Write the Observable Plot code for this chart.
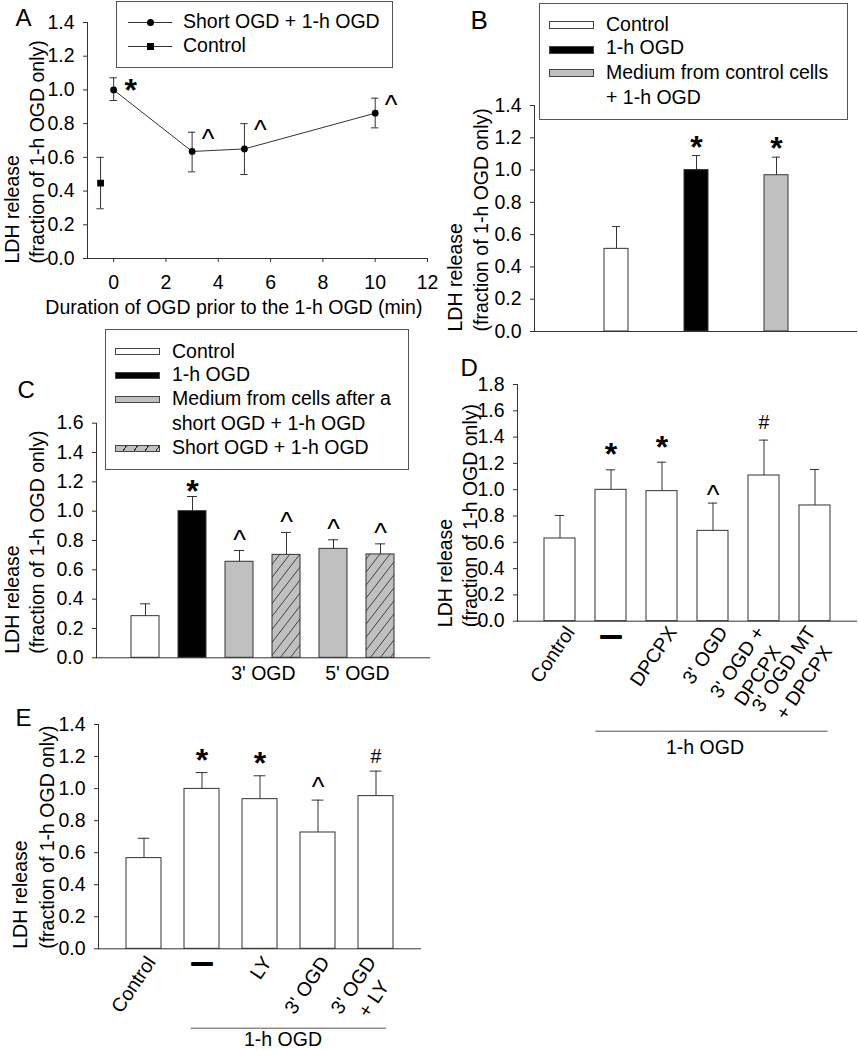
<!DOCTYPE html>
<html><head><meta charset="utf-8">
<script src="https://cdn.jsdelivr.net/npm/d3@7"></script>
<script src="https://cdn.jsdelivr.net/npm/@observablehq/plot@0.6"></script>
<style>
html,body{margin:0;padding:0;background:#fff;}
#root{position:relative;width:858px;height:1050px;overflow:hidden;font-family:"Liberation Sans",Arial,Helvetica,sans-serif;color:#000;background:#fff;}
.panel{position:absolute;}
.legend{position:absolute;border:1px solid #555;box-sizing:border-box;background:#fff;}
.lg-text{position:absolute;font-size:19.5px;line-height:19.5px;white-space:nowrap;}
.sw{position:absolute;box-sizing:border-box;border:1px solid #444;}
</style></head><body><div id="root"></div>
<script>
// ---------------- DATA ----------------
const yTitleLine1 = "LDH release";
const yTitleLine2 = "(fraction of 1-h OGD only)";
const yTicks14 = [0, 0.2, 0.4, 0.6, 0.8, 1.0, 1.2, 1.4];
const yTicks16 = [0, 0.2, 0.4, 0.6, 0.8, 1.0, 1.2, 1.4, 1.6];
const yTicks18 = [0, 0.2, 0.4, 0.6, 0.8, 1.0, 1.2, 1.4, 1.6, 1.8];

// Panel A
const aXTicks = [0, 2, 4, 6, 8, 10, 12];
const aXTitle = "Duration of OGD prior to the 1-h OGD (min)";
const aDurations = [0, 3, 5, 10];
const aMeans = [1.00, 0.635, 0.65, 0.862];
const aLow = [0.937, 0.514, 0.498, 0.775];
const aHigh = [1.072, 0.749, 0.80, 0.951];
const aSig = ["*", "^", "^", "^"];
const aControlX = [-0.5];
const aControlMean = [0.447];
const aControlLow = [0.295];
const aControlHigh = [0.60];
const aLegend = ["Short OGD + 1-h OGD", "Control"];

// Panel B
const bGroups = ["Control", "1-h OGD", "Medium from control cells + 1-h OGD"];
const bMeans = [0.512, 1.0, 0.968];
const bSem = [0.138, 0.09, 0.112];
const bSig = ["", "*", "*"];
const bTones = ["white", "black", "#c0c0c0"];
const bLegend = ["Control", "1-h OGD", "Medium from control cells", "+ 1-h OGD"];

// Panel C
const cGroups = ["Control", "1-h OGD", "Medium 3'", "Short 3'", "Medium 5'", "Short 5'"];
const cMeans = [0.284, 1.0, 0.655, 0.702, 0.743, 0.705];
const cSem = [0.084, 0.10, 0.077, 0.153, 0.062, 0.072];
const cSig = ["", "*", "^", "^", "^", "^"];
const cTones = ["white", "black", "#c0c0c0", "url(#hatchC)", "#c0c0c0", "url(#hatchC)"];
const cSpanLabels = ["3' OGD", "5' OGD"];
const cSpanStarts = ["Medium 3'", "Medium 5'"];
const cLegend = ["Control", "1-h OGD", "Medium from cells after a", "short OGD + 1-h OGD", "Short OGD + 1-h OGD"];

// Panel D
const dLabels = ["Control", "—", "DPCPX", "3' OGD", "3' OGD +\nDPCPX", "3' OGD MT\n+ DPCPX"];
const dMeans = [0.629, 0.999, 0.989, 0.687, 1.108, 0.880];
const dSem = [0.175, 0.152, 0.220, 0.211, 0.269, 0.274];
const dSig = ["", "*", "*", "^", "#", ""];
const dGroupLabel = "1-h OGD";

// Panel E
const eLabels = ["Control", "—", "LY", "3' OGD", "3' OGD\n+ LY"];
const eMeans = [0.566, 0.998, 0.934, 0.726, 0.953];
const eSem = [0.124, 0.102, 0.146, 0.202, 0.156];
const eSig = ["", "*", "*", "^", "#"];
const eGroupLabel = "1-h OGD";

// ---------------- STYLE HELPERS ----------------
const FONT = "'Liberation Sans', Arial, Helvetica, sans-serif";
const FS = 19.5;
const AX = "#333";
const ROT = 56;
const LH = 1.25;
const root = document.getElementById("root");
const measureCtx = document.createElement("canvas").getContext("2d");
measureCtx.font = FS + "px 'Liberation Sans', Arial, sans-serif";

function plotStyle() {
  return {fontFamily: FONT, fontSize: FS + "px", background: "transparent", overflow: "visible", color: "#000"};
}
function yAxisMark(ticks) {
  return Plot.axisY({ticks, tickFormat: d => d.toFixed(1), tickSize: 4, tickPadding: 9, label: null, stroke: AX, fill: "#000"});
}
function yLabelMarks(dx1, dx2, dy) {
  const o = {frameAnchor: "bottom-left", rotate: -90, textAnchor: "start", lineAnchor: "middle", dy, fontSize: FS};
  return [Plot.text([yTitleLine1], {...o, dx: dx1}), Plot.text([yTitleLine2], {...o, dx: dx2})];
}
function letterMark(letter, dx, dy, size) {
  return Plot.text([letter], {frameAnchor: "top-left", textAnchor: "start", lineAnchor: "bottom", dx, dy, fontSize: size});
}
// rotated, centre-aligned multi-line category labels; the end of the first line sits near the band centre
function rotatedLabelMarks(data, endDx, endDy, shiftPerLine) {
  const a = ROT * Math.PI / 180, c = Math.cos(a), s = Math.sin(a), lh = LH * FS;
  return data.filter(d => d.label !== "—").map(d => {
    const lines = d.label.split("\n");
    const n = lines.length;
    const w1 = measureCtx.measureText(lines[0]).width;
    const ax = endDx - shiftPerLine * (n - 1);
    return Plot.text([d], {
      x: "label", text: "label", frameAnchor: "bottom", rotate: -ROT, textAnchor: "middle", lineAnchor: "middle",
      fontSize: FS, lineHeight: LH,
      dx: ax - c * w1 / 2 + s * (n - 1) * lh / 2,
      dy: endDy + s * w1 / 2 + c * (n - 1) * lh / 2
    });
  });
}
function place(node, left, top, w) {
  const div = document.createElement("div");
  div.className = "panel";
  div.style.left = left + "px";
  div.style.top = top + "px";
  div.style.width = w + "px";
  div.appendChild(node);
  root.appendChild(div);
}
function sigMarks(data, cfg) {
  return [
    Plot.text(data.filter(d => d.sig === "*"), {x: "label", y: "hi", text: "sig", lineAnchor: "bottom", dy: cfg.starDy, fontSize: 32, fontWeight: "bold"}),
    Plot.text(data.filter(d => d.sig === "^"), {x: "label", y: "hi", text: "sig", lineAnchor: "bottom", dy: cfg.caretDy, fontSize: 27}),
    Plot.text(data.filter(d => d.sig === "#"), {x: "label", y: "hi", text: "sig", lineAnchor: "bottom", dy: cfg.hashDy, fontSize: FS})
  ];
}
function barPanel(cfg) {
  const data = cfg.labels.map((label, i) => ({label, mean: cfg.means[i], hi: cfg.means[i] + cfg.sems[i], sig: cfg.sigs[i], tone: cfg.tones[i]}));
  const marks = [
    Plot.barY(data, {x: "label", y: "mean", fill: "tone", stroke: AX, strokeWidth: 1}),
    Plot.ruleX(data, {x: "label", y1: "mean", y2: "hi", stroke: AX}),
    Plot.tickY(data, {x: "label", y: "hi", stroke: AX, insetLeft: cfg.capInset, insetRight: cfg.capInset}),
    Plot.ruleY([0], {stroke: AX}),
    Plot.frame({anchor: "left", stroke: AX}),
    yAxisMark(cfg.yTicks),
    ...sigMarks(data, cfg),
    ...yLabelMarks(cfg.yl[0], cfg.yl[1], cfg.yl[2]),
    letterMark(cfg.letter[0], cfg.letter[1], cfg.letter[2], cfg.letter[3]),
    ...(cfg.extra ? cfg.extra(data) : [])
  ];
  return Plot.plot({
    width: cfg.width, height: cfg.height,
    marginLeft: cfg.m[0], marginRight: cfg.m[1], marginTop: cfg.m[2], marginBottom: cfg.m[3],
    x: {type: "band", domain: cfg.labels, paddingInner: cfg.pad[0], paddingOuter: cfg.pad[1], axis: null},
    y: {domain: [0, cfg.yMax]},
    color: {type: "identity"},
    style: plotStyle(),
    marks
  });
}

// ---------------- PANEL A ----------------
const dataA = aDurations.map((x, i) => ({x, mean: aMeans[i], lo: aLow[i], hi: aHigh[i], sig: aSig[i]}));
const ctrlA = aControlX.map((x, i) => ({x, mean: aControlMean[i], lo: aControlLow[i], hi: aControlHigh[i]}));
const allA = [...dataA, ...ctrlA];
const capA = 0.14;
const plotA = Plot.plot({
  width: 440, height: 320, marginLeft: 87, marginRight: 13, marginTop: 22, marginBottom: 62,
  x: {domain: [-1, 12]}, y: {domain: [0, 1.4]},
  style: plotStyle(),
  marks: [
    Plot.ruleY([0], {stroke: AX}),
    Plot.ruleX([-1], {stroke: AX}),
    yAxisMark(yTicks14),
    Plot.axisX({ticks: aXTicks, tickSize: 4, tickPadding: 13, label: null, stroke: AX, fill: "#000"}),
    Plot.ruleX(allA, {x: "x", y1: "lo", y2: "hi", stroke: AX}),
    Plot.ruleY(allA, {y: "hi", x1: d => d.x - capA, x2: d => d.x + capA, stroke: AX}),
    Plot.ruleY(allA, {y: "lo", x1: d => d.x - capA, x2: d => d.x + capA, stroke: AX}),
    Plot.line(dataA, {x: "x", y: "mean", stroke: AX, strokeWidth: 1}),
    Plot.dot(dataA, {x: "x", y: "mean", r: 3.4, fill: "#000"}),
    Plot.dot(ctrlA, {x: "x", y: "mean", symbol: "square", r: 3.8, fill: "#000"}),
    Plot.text(dataA.filter(d => d.sig === "*"), {x: "x", y: "hi", text: "sig", lineAnchor: "bottom", dx: 17, dy: 23, fontSize: 32, fontWeight: "bold"}),
    Plot.text(dataA.filter(d => d.sig === "^"), {x: "x", y: "hi", text: "sig", lineAnchor: "bottom", dx: 16, dy: 15.5, fontSize: 27}),
    Plot.text([aXTitle], {frameAnchor: "bottom", lineAnchor: "bottom", dx: -23.6, dy: 55, fontSize: FS}),
    ...yLabelMarks(-75, -50, 5),
    letterMark("A", -72, 3, 24)
  ]
});
place(plotA, 0, 0, 440);

// ---------------- PANEL B ----------------
const plotB = barPanel({
  labels: bGroups, means: bMeans, sems: bSem, sigs: bSig, tones: bTones,
  width: 438, height: 360, m: [114, 1, 105, 29], pad: [0.7, 0.85],
  yMax: 1.4, yTicks: yTicks14, capInset: 8,
  starDy: 2, caretDy: 0, hashDy: 0,
  yl: [-79, -52.5, 0], letter: ["B", -64, -77, 26]
});
place(plotB, 420, 0, 438);

// ---------------- PANEL C ----------------
const cSpans = cSpanLabels.map((t, i) => ({label: cSpanStarts[i], text: t}));
const plotC = barPanel({
  labels: cGroups, means: cMeans, sems: cSem, sigs: cSig, tones: cTones,
  width: 440, height: 380, m: [96, 10, 102.7, 42.7], pad: [0.4, 0.7],
  yMax: 1.6, yTicks: yTicks16, capInset: 9,
  starDy: 5, caretDy: -1.5, hashDy: 0,
  yl: [-84, -58.5, -4], letter: ["C", -79, -25.7, 24],
  extra: () => [
    Plot.text(cSpans, {x: "label", text: "text", frameAnchor: "bottom", lineAnchor: "bottom", dx: 23.86, dy: 21.7, fontSize: FS})
  ]
});
d3.select(plotC).insert("defs", ":first-child").html(
  '<pattern id="hatchC" patternUnits="userSpaceOnUse" width="10" height="13">' +
  '<rect width="10" height="13" fill="#c0c0c0"/>' +
  '<path d="M-1,1.3 L1,-1.3 M0,13 L10,0 M9,14.3 L11,11.7" stroke="#333" stroke-width="0.9"/></pattern>');
place(plotC, 0, 320, 440);

// ---------------- PANEL D ----------------
const dashOpts = {frameAnchor: "bottom", lineAnchor: "middle", dy: 14, fontSize: 20, fontWeight: "bold", fill: "#000", stroke: "#000", strokeWidth: 1.8};
const plotD = barPanel({
  labels: dLabels, means: dMeans, sems: dSem, sigs: dSig, tones: dLabels.map(() => "white"),
  width: 438, height: 400, m: [97, 1, 24, 139.3], pad: [0.4, 0.52],
  yMax: 1.8, yTicks: yTicks18, capInset: 10.9,
  starDy: -4.6, caretDy: 1, hashDy: -11,
  yl: [-72, -46.5, 6], letter: ["D", -57, -9, 24],
  extra: (data) => [
    ...rotatedLabelMarks(data, 9, 6.5, 14),
    Plot.text(data.filter(d => d.label === "—"), {...dashOpts, x: "label", text: "label"}),
    Plot.ruleY([{a: dLabels[1], b: dLabels[dLabels.length - 1]}], {y: () => 0, x1: "a", x2: "b", dy: 110, insetLeft: 0.4, insetRight: 2.4, stroke: "#555"}),
    Plot.text([{label: "3' OGD", text: dGroupLabel}], {x: "label", text: "text", frameAnchor: "bottom", lineAnchor: "bottom", dx: -8, dy: 132.3, fontSize: FS})
  ]
});
place(plotD, 420, 360, 438);

// ---------------- PANEL E ----------------
const plotE = barPanel({
  labels: eLabels, means: eMeans, sems: eSem, sigs: eSig, tones: eLabels.map(() => "white"),
  width: 440, height: 350, m: [98, 19, 24, 101.7], pad: [0.4, 0.47],
  yMax: 1.4, yTicks: yTicks14, capInset: 11.6,
  starDy: -2, caretDy: -4, hashDy: -8,
  yl: [-78, -50.5, 0], letter: ["E", -83, 1, 24],
  extra: (data) => [
    ...rotatedLabelMarks(data, 6, 9, 11.6),
    Plot.text(data.filter(d => d.label === "—"), {...dashOpts, x: "label", text: "label"}),
    Plot.ruleY([{a: eLabels[1], b: eLabels[eLabels.length - 1]}], {y: () => 0, x1: "a", x2: "b", dy: 79.4, insetLeft: 6.7, insetRight: 7, stroke: "#555"}),
    Plot.text([{label: "LY", text: eGroupLabel}], {x: "label", text: "text", frameAnchor: "bottom", lineAnchor: "bottom", dx: 23, dy: 97.5, fontSize: FS})
  ]
});
place(plotE, 0, 700, 440);

// ---------------- LEGENDS (HTML) ----------------
function box(x, y, w, h) {
  const d = document.createElement("div");
  d.className = "legend";
  Object.assign(d.style, {left: x + "px", top: y + "px", width: w + "px", height: h + "px"});
  root.appendChild(d);
}
function ltext(t, left, baseline) {
  const d = document.createElement("div");
  d.className = "lg-text";
  d.textContent = t;
  d.style.left = left + "px";
  d.style.top = (baseline - 0.8465 * FS) + "px";
  root.appendChild(d);
}
function swatch(left, cy, w, h, bg) {
  const d = document.createElement("div");
  d.className = "sw";
  Object.assign(d.style, {left: left + "px", top: (cy - h / 2) + "px", width: w + "px", height: h + "px", background: bg});
  root.appendChild(d);
}
function lineSample(x1, x2, cy, shape) {
  const l = document.createElement("div");
  Object.assign(l.style, {position: "absolute", left: x1 + "px", top: (cy - 0.5) + "px", width: (x2 - x1) + "px", height: "1px", background: AX});
  root.appendChild(l);
  const m = document.createElement("div");
  const s = 7;
  Object.assign(m.style, {position: "absolute", left: ((x1 + x2) / 2 - s / 2) + "px", top: (cy - s / 2) + "px", width: s + "px", height: s + "px", background: "#000", borderRadius: shape === "circle" ? "50%" : "0"});
  root.appendChild(m);
}
const hatchCss = "repeating-linear-gradient(125deg, #c0c0c0 0px, #c0c0c0 8px, #333 8px, #333 9px)";

// Legend A
box(116, 1, 277, 67);
lineSample(128, 172, 22, "circle");
ltext(aLegend[0], 183, 28.3);
lineSample(128, 172, 46, "square");
ltext(aLegend[1], 183, 52.3);

// Legend B
box(539, 3, 309, 117);
swatch(549, 24.5, 45, 8, "white"); ltext(bLegend[0], 606, 31.7);
swatch(549, 49.5, 45, 8, "black"); ltext(bLegend[1], 606, 55);
swatch(549, 73, 45, 8, "#c0c0c0"); ltext(bLegend[2], 606, 80);
ltext(bLegend[3], 606, 105);

// Legend C
box(105, 329, 304, 141);
swatch(115, 351, 45, 7, "white"); ltext(cLegend[0], 172, 358.3);
swatch(115, 375, 45, 7, "black"); ltext(cLegend[1], 172, 381.7);
swatch(115, 399, 45, 7, "#c0c0c0"); ltext(cLegend[2], 172, 406);
ltext(cLegend[3], 172, 431);
swatch(115, 448.3, 45, 7, hatchCss); ltext(cLegend[4], 172, 455);
</script></body></html>
